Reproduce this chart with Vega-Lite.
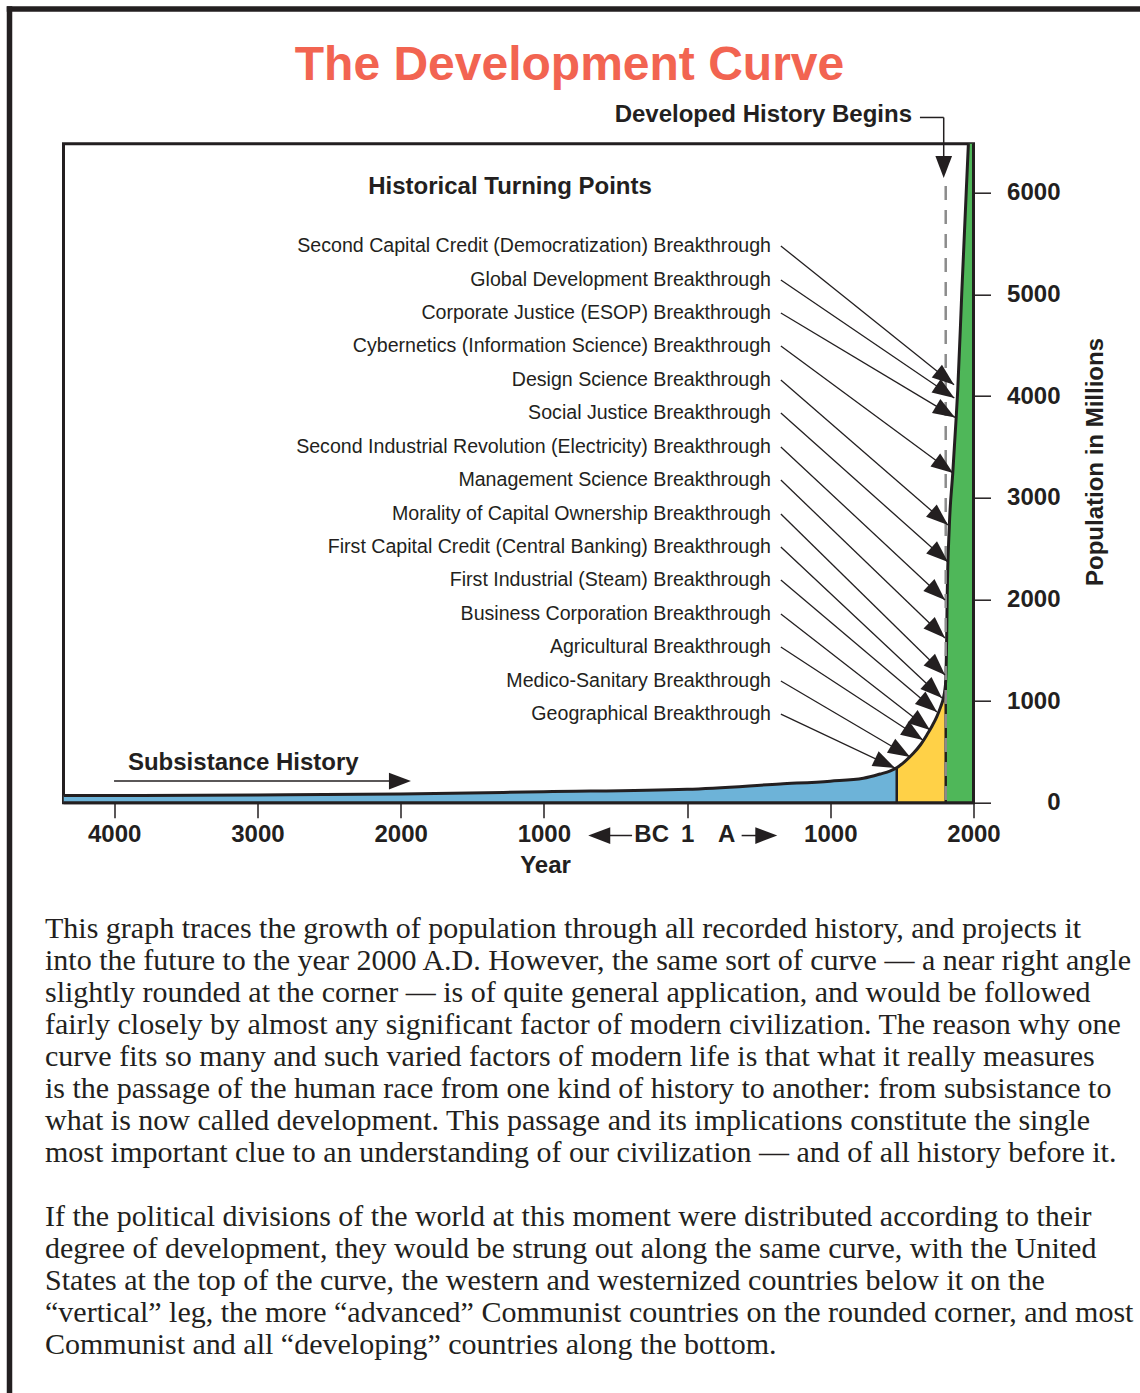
{
  "$schema": "https://vega.github.io/schema/vega-lite/v6.json",
  "width": 910,
  "height": 659,
  "autosize": {"type": "none"},
  "padding": {"left": 63.5, "top": 143.7, "right": 166.5, "bottom": 590.3},
  "background": "white",
  "config": {"view": {"stroke": "#231f20", "strokeWidth": 3}},
  "datasets": {
    "population": [
      {"x": -4354, "y": 70}, {"x": -3000, "y": 76}, {"x": -2000, "y": 85}, {"x": -1000, "y": 108},
      {"x": 0, "y": 132}, {"x": 650, "y": 184}, {"x": 1000, "y": 212}, {"x": 1231, "y": 240},
      {"x": 1348, "y": 282}, {"x": 1420, "y": 314}, {"x": 1464, "y": 344}, {"x": 1520, "y": 405},
      {"x": 1580, "y": 486}, {"x": 1630, "y": 570}, {"x": 1674, "y": 666}, {"x": 1710, "y": 752},
      {"x": 1744, "y": 846}, {"x": 1770, "y": 940}, {"x": 1790, "y": 1030}, {"x": 1800, "y": 1110},
      {"x": 1806, "y": 1200}, {"x": 1810, "y": 1400}, {"x": 1813, "y": 1650}, {"x": 1816, "y": 2000},
      {"x": 1831, "y": 2715}, {"x": 1855, "y": 3240}, {"x": 1878, "y": 3764}, {"x": 1890, "y": 4060},
      {"x": 1918, "y": 5010}, {"x": 1964, "y": 6470}, {"x": 2000, "y": 7610}
    ],
    "breakthroughs": [
      {"label": "Second Capital Credit (Democratization) Breakthrough", "x": 655, "y": 5476, "x2": 1864, "y2": 4110},
      {"label": "Global Development Breakthrough", "x": 655, "y": 5141, "x2": 1866, "y2": 3980},
      {"label": "Corporate Justice (ESOP) Breakthrough", "x": 655, "y": 4817, "x2": 1871, "y2": 3790},
      {"label": "Cybernetics (Information Science) Breakthrough", "x": 655, "y": 4492, "x2": 1857, "y2": 3243},
      {"label": "Design Science Breakthrough", "x": 655, "y": 4158, "x2": 1822, "y2": 2731},
      {"label": "Social Justice Breakthrough", "x": 655, "y": 3833, "x2": 1822, "y2": 2367},
      {"label": "Second Industrial Revolution (Electricity) Breakthrough", "x": 655, "y": 3499, "x2": 1801, "y2": 1994},
      {"label": "Management Science Breakthrough", "x": 655, "y": 3174, "x2": 1801, "y2": 1620},
      {"label": "Morality of Capital Ownership Breakthrough", "x": 655, "y": 2840, "x2": 1801, "y2": 1256},
      {"label": "First Capital Credit (Central Banking) Breakthrough", "x": 655, "y": 2515, "x2": 1780, "y2": 1030},
      {"label": "First Industrial (Steam) Breakthrough", "x": 655, "y": 2190, "x2": 1745, "y2": 892},
      {"label": "Business Corporation Breakthrough", "x": 655, "y": 1856, "x2": 1696, "y2": 715},
      {"label": "Agricultural Breakthrough", "x": 655, "y": 1531, "x2": 1647, "y2": 617},
      {"label": "Medico-Sanitary Breakthrough", "x": 655, "y": 1197, "x2": 1557, "y2": 450},
      {"label": "Geographical Breakthrough", "x": 655, "y": 872, "x2": 1452, "y2": 341}
    ],
    "pointers": [
      {"x": -4001, "y": 213, "x2": -2039, "y2": 213},
      {"x": 1626, "y": 6740, "x2": 1792, "y2": 6740},
      {"x": 1792, "y": 6740, "x2": 1792, "y2": 6321},
      {"x": -608, "y": -323, "x2": -384, "y2": -323},
      {"x": 381, "y": -323, "x2": 488, "y2": -323}
    ],
    "pointerHeads": [
      {"x": -1928, "y": 213, "ang": 0},
      {"x": 1792, "y": 6145, "ang": 90},
      {"x": -690, "y": -323, "ang": 180},
      {"x": 630, "y": -323, "ang": 0}
    ]
  },
  "encoding": {
    "x": {
      "field": "x", "type": "quantitative",
      "scale": {"domain": [-4354, 2000], "nice": false, "zero": false},
      "axis": {
        "values": [-4000, -3000, -2000, -1000, 0, 1000, 2000],
        "labelExpr": "datum.value == 0 ? '1' : format(abs(datum.value), 'd')",
        "labelFont": "Liberation Sans", "labelFontWeight": "bold", "labelFontSize": 24,
        "labelColor": "#231f20", "labelPadding": 24, "labelBaseline": "alphabetic",
        "labelOverlap": false, "labelFlush": false,
        "tickSize": 15, "tickColor": "#231f20", "tickWidth": 1.5,
        "domain": false, "grid": false,
        "title": "Year", "titleFont": "Liberation Sans", "titleFontWeight": "bold", "titleFontSize": 24,
        "titleColor": "#231f20", "titleX": 481.5, "titleY": 69.5, "titleBaseline": "alphabetic", "titleAlign": "center"
      }
    },
    "y": {
      "field": "y", "type": "quantitative", "stack": null,
      "scale": {"domain": [0, 6482], "nice": false, "zero": false},
      "axis": {
        "orient": "right",
        "values": [0, 1000, 2000, 3000, 4000, 5000, 6000],
        "format": "d",
        "labelFont": "Liberation Sans", "labelFontWeight": "bold", "labelFontSize": 24,
        "labelColor": "#231f20", "labelAlign": "right", "labelBaseline": "middle", "labelPadding": 69.5,
        "tickSize": 17, "tickColor": "#231f20", "tickWidth": 1.5,
        "domain": false, "grid": false,
        "title": "Population in Millions", "titleFont": "Liberation Sans", "titleFontWeight": "bold", "titleFontSize": 24,
        "titleColor": "#231f20", "titleAngle": 270, "titleX": 128.5, "titleY": 317.8,
        "titleBaseline": "alphabetic", "titleAlign": "center"
      }
    }
  },
  "layer": [
    {
      "data": {"name": "population"},
      "transform": [{"filter": "datum.x <= 1464"}],
      "mark": {"type": "area", "color": "#6DB3D8", "clip": true, "interpolate": "monotone"}
    },
    {
      "data": {"name": "population"},
      "transform": [{"filter": "datum.x >= 1464 && datum.x <= 1806"}],
      "mark": {"type": "area", "color": "#FFD147", "clip": true, "interpolate": "monotone"}
    },
    {
      "data": {"name": "population"},
      "transform": [{"filter": "datum.x >= 1806"}],
      "mark": {"type": "area", "color": "#4FB759", "clip": true, "interpolate": "monotone"}
    },
    {
      "data": {"values": [{"x": 1464, "y": 0, "y2": 344}, {"x": 1806, "y": 0, "y2": 1200}]},
      "mark": {"type": "rule", "color": "#231f20", "strokeWidth": 2.5},
      "encoding": {"y2": {"field": "y2"}}
    },
    {
      "data": {"name": "population"},
      "mark": {"type": "line", "color": "#231f20", "strokeWidth": 3, "clip": true, "interpolate": "monotone"}
    },
    {
      "data": {"values": [{"x": -4354, "x2": 2000, "y": 0, "y2": 0}, {"x": 2000, "x2": 2000, "y": 0, "y2": 6482}]},
      "mark": {"type": "rule", "color": "#231f20", "strokeWidth": 3},
      "encoding": {"x2": {"field": "x2"}, "y2": {"field": "y2"}}
    },
    {
      "data": {"values": [{"x": 1806, "y": 6066, "y2": 0}]},
      "mark": {"type": "rule", "color": "#8c8c8c", "strokeWidth": 2.5, "strokeDash": [14, 10]},
      "encoding": {"y2": {"field": "y2"}}
    },
    {
      "data": {"name": "breakthroughs"},
      "mark": {"type": "rule", "color": "#231f20", "strokeWidth": 1.3},
      "encoding": {"x2": {"field": "x2"}, "y2": {"field": "y2"}}
    },
    {
      "data": {"name": "breakthroughs"},
      "transform": [{"calculate": "atan2((datum.y - datum.y2) * 659 / 6482, (datum.x2 - datum.x) * 910 / 6354) * 180 / PI", "as": "ang"}],
      "mark": {"type": "point", "shape": "M0,0L-1,-0.37L-1,0.37Z", "size": 1936, "filled": true, "opacity": 1, "color": "#231f20", "strokeWidth": 0},
      "encoding": {
        "x": {"field": "x2", "type": "quantitative", "scale": {"domain": [-4354, 2000], "nice": false, "zero": false}},
        "y": {"field": "y2", "type": "quantitative", "scale": {"domain": [0, 6482], "nice": false, "zero": false}},
        "angle": {"field": "ang", "type": "quantitative", "scale": null}
      }
    },
    {
      "data": {"name": "breakthroughs"},
      "mark": {"type": "text", "align": "right", "baseline": "middle", "font": "Liberation Sans", "fontSize": 19.6, "color": "#231f20"},
      "encoding": {
        "x": {"datum": 586, "type": "quantitative", "scale": {"domain": [-4354, 2000], "nice": false, "zero": false}},
        "text": {"field": "label"}
      }
    },
    {
      "data": {"name": "pointers"},
      "mark": {"type": "rule", "color": "#231f20", "strokeWidth": 1.5},
      "encoding": {"x2": {"field": "x2"}, "y2": {"field": "y2"}}
    },
    {
      "data": {"name": "pointerHeads"},
      "mark": {"type": "point", "shape": "M0,0L-1,-0.38L-1,0.38Z", "size": 1936, "filled": true, "opacity": 1, "color": "#231f20", "strokeWidth": 0},
      "encoding": {"angle": {"field": "ang", "type": "quantitative", "scale": null}}
    },
    {
      "data": {"values": [{"x": -821, "y": 7108, "t": "The Development Curve"}]},
      "mark": {"type": "text", "align": "center", "baseline": "alphabetic", "font": "Liberation Sans", "fontWeight": "bold", "fontSize": 48, "color": "#F26451"},
      "encoding": {"text": {"field": "t"}}
    },
    {
      "data": {"values": [
        {"x": -1236, "y": 5987, "t": "Historical Turning Points"},
        {"x": -247, "y": -382, "t": "BC"},
        {"x": 277, "y": -382, "t": "A"}
      ]},
      "mark": {"type": "text", "align": "center", "baseline": "alphabetic", "font": "Liberation Sans", "fontWeight": "bold", "fontSize": 24, "color": "#231f20"},
      "encoding": {"text": {"field": "t"}}
    },
    {
      "data": {"values": [{"x": 1571, "y": 6695, "t": "Developed History Begins"}]},
      "mark": {"type": "text", "align": "right", "baseline": "alphabetic", "font": "Liberation Sans", "fontWeight": "bold", "fontSize": 24, "color": "#231f20"},
      "encoding": {"text": {"field": "t"}}
    },
    {
      "data": {"values": [{"x": -3904, "y": 322, "t": "Subsistance History"}]},
      "mark": {"type": "text", "align": "left", "baseline": "alphabetic", "font": "Liberation Sans", "fontWeight": "bold", "fontSize": 24, "color": "#231f20"},
      "encoding": {"text": {"field": "t"}}
    },
    {
      "data": {"values": [
        {"x": -4483, "y": -1326, "t": [
          "This graph traces the growth of population through all recorded history, and projects it",
          "into the future to the year 2000 A.D.  However, the same sort of curve — a near right angle",
          "slightly rounded at the corner — is of quite general application, and would be followed",
          "fairly closely by almost any significant factor of modern civilization.  The reason why one",
          "curve fits so many and such varied factors of modern life is that what it really measures",
          "is the passage of the human race from one kind of history to another: from subsistance to",
          "what is now called development.  This passage and its implications constitute the single",
          "most important clue to an understanding of our civilization — and of all history before it."
        ]},
        {"x": -4483, "y": -4159, "t": [
          "If the political divisions of the world at this moment were distributed according to their",
          "degree of development, they would be strung out along the same curve, with the United",
          "States at the top of the curve, the western and westernized countries below it on the",
          "“vertical” leg, the more “advanced” Communist countries on the rounded corner, and most",
          "Communist and all “developing” countries along the bottom."
        ]}
      ]},
      "mark": {"type": "text", "align": "left", "baseline": "alphabetic", "font": "Liberation Serif", "fontSize": 30, "lineHeight": 32, "color": "#231f20"},
      "encoding": {"text": {"field": "t"}}
    },
    {
      "data": {"values": [
        {"x": -4731, "x2": 3163, "y": 7807, "y2": 7807},
        {"x": -4731, "x2": -4731, "y": 7807, "y2": -5806}
      ]},
      "mark": {"type": "rule", "color": "#231f20", "strokeWidth": 5.5, "strokeCap": "square"},
      "encoding": {"x2": {"field": "x2"}, "y2": {"field": "y2"}}
    }
  ]
}
